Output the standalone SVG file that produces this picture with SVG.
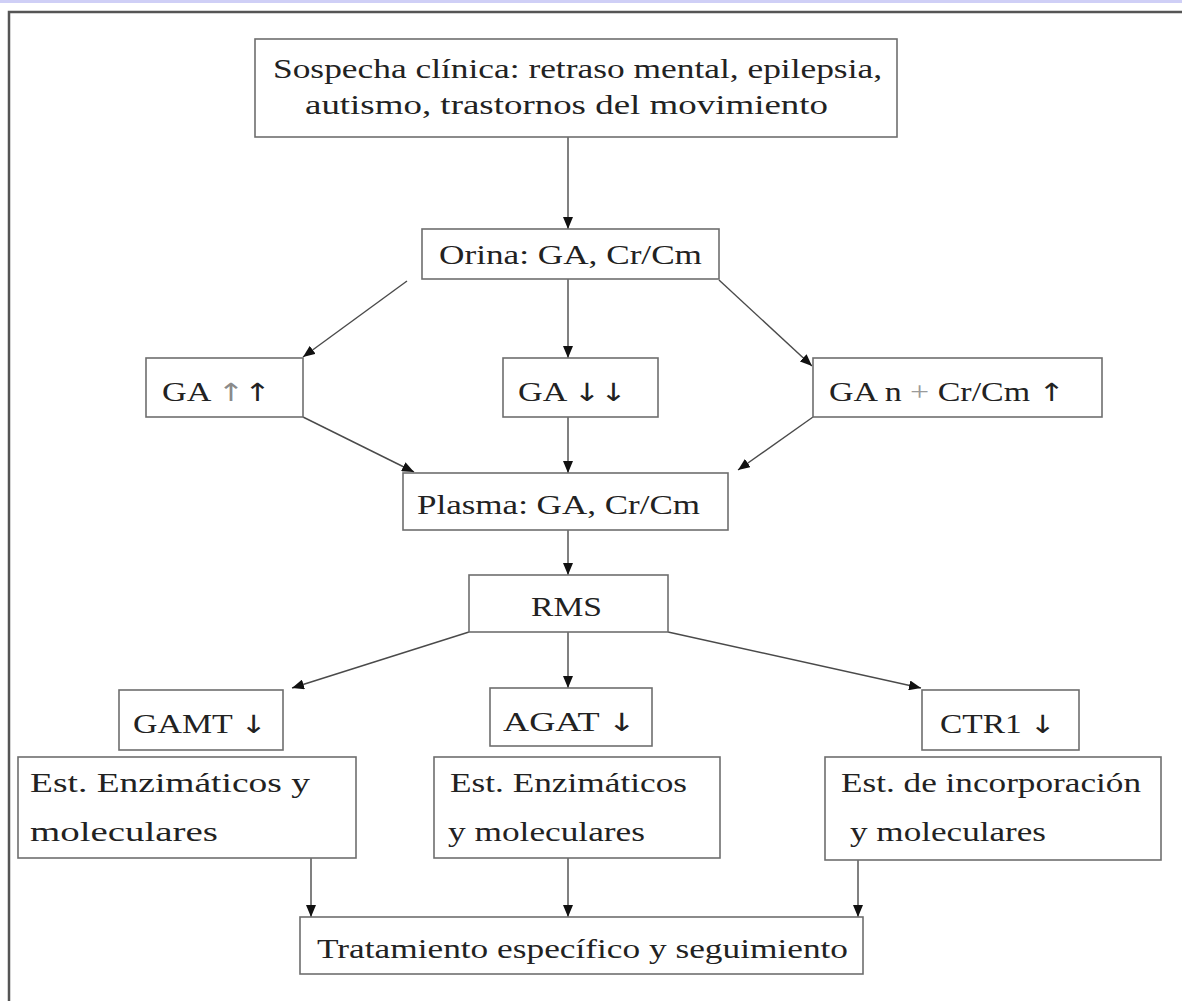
<svg xmlns="http://www.w3.org/2000/svg" width="1182" height="1001" viewBox="0 0 1182 1001">
  <style>
    .box { fill: #ffffff; stroke: #6e6e6e; stroke-width: 1.6; }
    .lbl { font-family: "Liberation Serif", "Times New Roman", serif; font-size: 27px; fill: #222222; }
    .arr { font-family: "DejaVu Sans", sans-serif; font-size: 25px; }
    .edge { fill: none; stroke: #4a4a4a; stroke-width: 1.4; marker-end: url(#head); }
  </style>
  <defs>
    <marker id="head" markerUnits="userSpaceOnUse" markerWidth="12" markerHeight="10" viewBox="0 0 12 10" refX="12" refY="5" orient="auto">
      <path d="M0,0 L12,5 L0,10 z" fill="#111111"/>
    </marker>
  </defs>

  <!-- page background and frame -->
  <rect x="0" y="0" width="1182" height="1001" fill="#ffffff"/>
  <rect x="0" y="0" width="1182" height="3" fill="#cfcff6"/>
  <rect x="9" y="12" width="1200" height="1010" fill="none" stroke="#555555" stroke-width="2.5"/>

  <!-- connectors -->
  <g id="connectors">
    <path class="edge" d="M568,137 L568,229"/>
    <path class="edge" d="M407,281 L303,357"/>
    <path class="edge" d="M568,279 L568,358"/>
    <path class="edge" d="M719,280 L812,366"/>
    <path class="edge" d="M303,417 L414,472"/>
    <path class="edge" d="M568,417 L568,473"/>
    <path class="edge" d="M813,417 L738,470"/>
    <path class="edge" d="M568,530 L568,575"/>
    <path class="edge" d="M469,632 L292,688"/>
    <path class="edge" d="M568,632 L568,688"/>
    <path class="edge" d="M668,632 L921,688"/>
    <path class="edge" d="M311,858 L311,917"/>
    <path class="edge" d="M568,858 L568,917"/>
    <path class="edge" d="M858,860 L858,917"/>
  </g>

  <g id="sospecha">
    <rect class="box" x="255" y="39" width="642" height="98"/>
    <text class="lbl" x="273" y="78" textLength="609" lengthAdjust="spacingAndGlyphs">Sospecha clínica: retraso mental, epilepsia,</text>
    <text class="lbl" x="305" y="114" textLength="523" lengthAdjust="spacingAndGlyphs">autismo, trastornos del movimiento</text>
  </g>

  <g id="orina">
    <rect class="box" x="422" y="229" width="297" height="50"/>
    <text class="lbl" x="439" y="264" textLength="263" lengthAdjust="spacingAndGlyphs">Orina: GA, Cr/Cm</text>
  </g>

  <g id="ga-alto">
    <rect class="box" x="146" y="358" width="157" height="59"/>
    <text class="lbl" x="162" y="401" textLength="109" lengthAdjust="spacingAndGlyphs">GA <tspan class="arr" fill="#8a8a8a">↑</tspan><tspan class="arr">↑</tspan></text>
  </g>

  <g id="ga-bajo">
    <rect class="box" x="503" y="358" width="155" height="59"/>
    <text class="lbl" x="518" y="401" textLength="109" lengthAdjust="spacingAndGlyphs">GA <tspan class="arr">↓↓</tspan></text>
  </g>

  <g id="ga-normal">
    <rect class="box" x="813" y="358" width="289" height="59"/>
    <text class="lbl" x="829" y="401" textLength="236" lengthAdjust="spacingAndGlyphs">GA n <tspan fill="#9a9a9a">+</tspan> Cr/Cm <tspan class="arr">↑</tspan></text>
  </g>

  <g id="plasma">
    <rect class="box" x="403" y="473" width="325" height="57"/>
    <text class="lbl" x="417" y="514" textLength="283" lengthAdjust="spacingAndGlyphs">Plasma: GA, Cr/Cm</text>
  </g>

  <g id="rms">
    <rect class="box" x="469" y="575" width="199" height="57"/>
    <text class="lbl" x="531" y="616" textLength="71" lengthAdjust="spacingAndGlyphs">RMS</text>
  </g>

  <g id="gamt">
    <rect class="box" x="119" y="690" width="164" height="60"/>
    <text class="lbl" x="133" y="733" textLength="134" lengthAdjust="spacingAndGlyphs">GAMT <tspan class="arr">↓</tspan></text>
  </g>

  <g id="agat">
    <rect class="box" x="490" y="688" width="162" height="58"/>
    <text class="lbl" x="503" y="731" textLength="133" lengthAdjust="spacingAndGlyphs">AGAT <tspan class="arr">↓</tspan></text>
  </g>

  <g id="ctr1">
    <rect class="box" x="922" y="690" width="157" height="60"/>
    <text class="lbl" x="940" y="733" textLength="116" lengthAdjust="spacingAndGlyphs">CTR1 <tspan class="arr">↓</tspan></text>
  </g>

  <g id="estudios-gamt">
    <rect class="box" x="18" y="757" width="338" height="101"/>
    <text class="lbl" x="30" y="792" textLength="280" lengthAdjust="spacingAndGlyphs">Est. Enzimáticos y</text>
    <text class="lbl" x="30" y="841" textLength="188" lengthAdjust="spacingAndGlyphs">moleculares</text>
  </g>

  <g id="estudios-agat">
    <rect class="box" x="434" y="757" width="286" height="101"/>
    <text class="lbl" x="450" y="792" textLength="237" lengthAdjust="spacingAndGlyphs">Est. Enzimáticos</text>
    <text class="lbl" x="448" y="841" textLength="197" lengthAdjust="spacingAndGlyphs">y moleculares</text>
  </g>

  <g id="estudios-ctr1">
    <rect class="box" x="825" y="757" width="336" height="103"/>
    <text class="lbl" x="841" y="792" textLength="300" lengthAdjust="spacingAndGlyphs">Est. de incorporación</text>
    <text class="lbl" x="850" y="841" textLength="196" lengthAdjust="spacingAndGlyphs">y moleculares</text>
  </g>

  <g id="tratamiento">
    <rect class="box" x="300" y="917" width="563" height="57"/>
    <text class="lbl" x="317" y="958" textLength="531" lengthAdjust="spacingAndGlyphs">Tratamiento específico y seguimiento</text>
  </g>
</svg>
